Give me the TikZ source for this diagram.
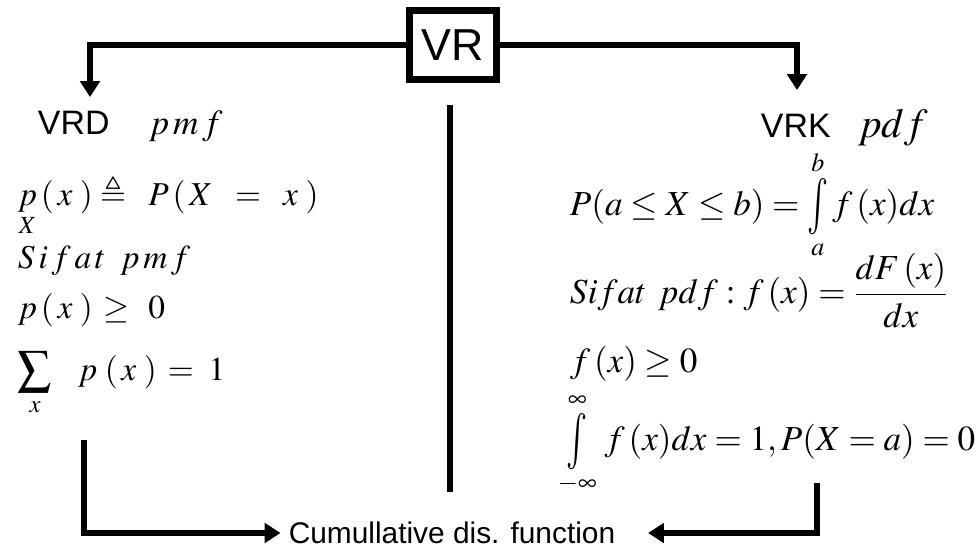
\documentclass[tikz,border=0pt]{standalone}
\usepackage{amsmath}
\usepackage{amssymb}
\usepackage{mathptmx}
\usepackage[no-math]{fontspec}
\setmainfont{Liberation Sans}
\usetikzlibrary{arrows.meta}

\begin{document}
\begin{tikzpicture} [x = 0.02cm, y = -0.02cm, line width = 3.4pt, every node/.style = {inner sep = 0pt}, arr/.style = {-{Triangle[width = 11pt, length = 9pt]}}]
\useasboundingbox (0,0) rectangle (978,551);
\node[draw, line width = 4pt, minimum width = 1.74cm, minimum height = 1.38cm](vr) at (453,45){\fontsize{25.5}{28}\selectfont VR};
\node[anchor = base west](d) at (35,134){\fontsize{19.3}{22}\selectfont VRD};
\node[anchor = base west](dm) at (146,134){\fontsize{20}{22}\selectfont $p\,m\,f$};
\node[anchor = base west](k) at (758,137){\fontsize{19.3}{22}\selectfont VRK};
\node[anchor = base west](km) at (855,137){\fontsize{23.5}{26}\selectfont $pdf$};
\node[anchor = base west](d1) at (15,205){\fontsize{19}{22}\selectfont $\underset{X}{p}\,(\,x\;)\triangleq\;\;P\,(\,X\;\;=\;\;x\;)$};
\node[anchor = base west](d2) at (15,268){\fontsize{19}{22}\selectfont $S\,i\,f\,a\,t\;\;p\,m\,f$};
\node[anchor = base west](d3) at (15,318){\fontsize{19}{22}\selectfont $p\,(\,x\;)\,\geq\;\,0$};
\node[anchor = base west](d4) at (15,380){\fontsize{19}{22}\selectfont $\displaystyle\sum\limits_{x}\;\;\;p\;(\,x\;)\,=\;1$};
\node[anchor = base west](k1) at (567,215){\fontsize{20}{24}\selectfont $P(a\leq X\leq b)=\mathop{\vcenter{\hbox{\scalebox{1}[1.6]{$\int$}}}}\limits_a^b f\,(x)dx$};
\node[anchor = base west](k2) at (567,303){\fontsize{20}{24}\selectfont $Sifat\;\,pdf:f\,(x)=\dfrac{dF\,(x)}{dx}$};
\node[anchor = base west](k3) at (567,372){\fontsize{20}{24}\selectfont $f\,(x)\geq 0$};
\node[anchor = base west](k4) at (555,450){\fontsize{20}{24}\selectfont $\mathop{\vcenter{\hbox{\scalebox{1}[1.6]{$\int$}}}}\limits_{-\infty}^{\infty}\,f\,(x)dx=1,P(X=a)=0$};
\node(c) at (452,533){\fontsize{17}{20}\selectfont Cumullative dis. function};
\coordinate (dt) at (90,97);
\coordinate (kt) at (797,90);
\coordinate (st) at (450,105);
\coordinate (sb) at (450,492);
\coordinate (df) at (84,440);
\coordinate (kf) at (817,483);
\draw[arr] (vr.west) -| (dt);
\draw[arr] (vr.east) -| (kt);
\draw[line width = 3.8pt] (st) -- (sb);
\draw[arr, shorten >= 3pt] (df) |- (c.west);
\draw[arr, shorten >= 17pt] (kf) |- (c.east);
\end{tikzpicture}
\end{document}
